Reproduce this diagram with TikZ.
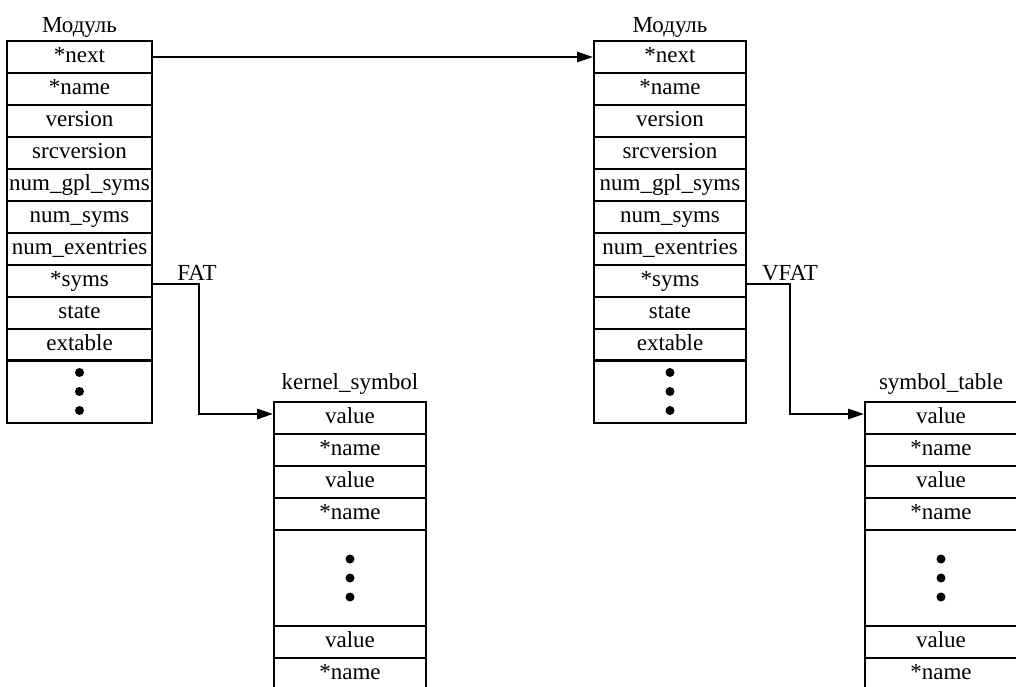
\documentclass[tikz,border=0pt]{standalone}
\usepackage{fontspec}
\setmainfont{Liberation Serif}
\usetikzlibrary{arrows.meta}

\tikzset{
  fld/.style={draw,line width=1.7pt,minimum height=32,inner sep=0pt,
    text height=15pt,text depth=4pt},
  dotbox/.style={draw,line width=1.7pt,inner sep=0pt},
  link/.style={line width=2.8pt,-{Triangle[length=16pt,width=10pt]}},
  ttl/.style={anchor=base,inner sep=0pt}
}

\begin{document}
\begin{tikzpicture}[x=1pt,y=-1pt,font=\fontsize{23}{27}\selectfont]
  \useasboundingbox (0,0) rectangle (1016,687);
  \clip (0,0) rectangle (1016,687);

  % first module
  \node[ttl] (mlaba) at (79.5,33) {Модуль};
  \foreach \t [count=\i] in {*next,*name,version,srcversion,num\_gpl\_syms,
      num\_syms,num\_exentries,*syms,state,extable}
    \node[fld,minimum width=145] (ma\i) at (79.5,25+32*\i) {\t};
  \node[dotbox,minimum width=145,minimum height=63] (madots) at (79.5,391.5) {};
  \foreach \d in {-19,0,19}
    \fill (madots.center) ++(0,\d) circle (4.5);

  % second module
  \node[ttl] (mlabb) at (670,33) {Модуль};
  \foreach \t [count=\i] in {*next,*name,version,srcversion,num\_gpl\_syms,
      num\_syms,num\_exentries,*syms,state,extable}
    \node[fld,minimum width=152] (mb\i) at (670,25+32*\i) {\t};
  \node[dotbox,minimum width=152,minimum height=63] (mbdots) at (670,391.5) {};
  \foreach \d in {-19,0,19}
    \fill (mbdots.center) ++(0,\d) circle (4.5);

  % kernel_symbol
  \node[ttl] (klab) at (350,389) {kernel\_symbol};
  \foreach \t [count=\i] in {value,*name,value,*name}
    \node[fld,minimum width=152] (ka\i) at (350,386+32*\i) {\t};
  \node[dotbox,minimum width=152,minimum height=96] (kadots) at (350,578) {};
  \foreach \d in {-19,0,19}
    \fill (kadots.center) ++(0,\d) circle (4.5);
  \node[fld,minimum width=152] (ka5) at (350,642) {value};
  \node[fld,minimum width=152] (ka6) at (350,674) {*name};

  % symbol_table
  \node[ttl] (slab) at (941,389) {symbol\_table};
  \foreach \t [count=\i] in {value,*name,value,*name}
    \node[fld,minimum width=152] (sa\i) at (941,386+32*\i) {\t};
  \node[dotbox,minimum width=152,minimum height=96] (sadots) at (941,578) {};
  \foreach \d in {-19,0,19}
    \fill (sadots.center) ++(0,\d) circle (4.5);
  \node[fld,minimum width=152] (sa5) at (941,642) {value};
  \node[fld,minimum width=152] (sa6) at (941,674) {*name};

  % links
  \coordinate (fatbend) at (199,0);
  \coordinate (vfatbend) at (790,0);
  \coordinate (kin) at ([yshift=4pt]ka1.west);
  \coordinate (sin) at ([yshift=4pt]sa1.west);
  \node[ttl] (fat) at (197,280) {FAT};
  \node[ttl] (vfat) at (790,280) {VFAT};
  \draw[link,line width=2.3pt] (ma1.east) -- (mb1.west);
  \draw[link] ([yshift=-3pt]ma8.east) -| (fatbend |- kin) -- (kin);
  \draw[link] ([yshift=-3pt]mb8.east) -| (vfatbend |- sin) -- (sin);
\end{tikzpicture}
\end{document}
